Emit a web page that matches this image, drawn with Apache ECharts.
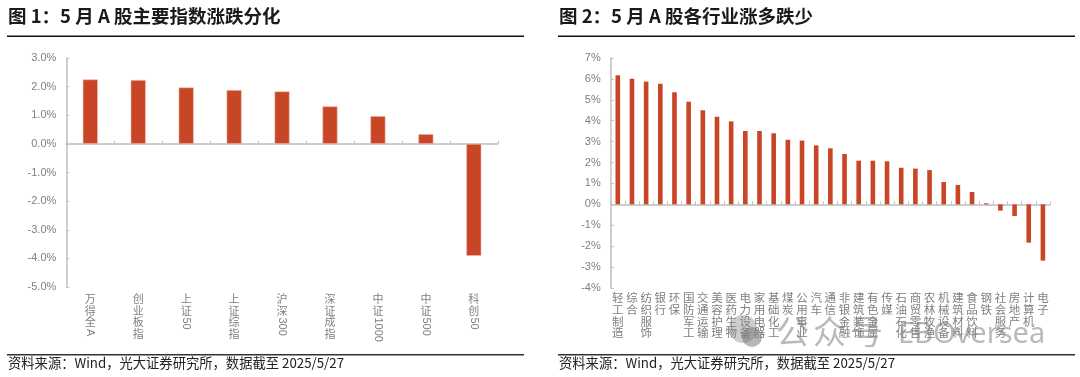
<!DOCTYPE html>
<html>
<head>
<meta charset="utf-8">
<title>5月A股涨跌</title>
<script src="https://cdn.jsdelivr.net/npm/echarts@6/dist/echarts.min.js"></script>
<style>
  html, body { margin: 0; padding: 0; background: #fff; }
  #chart { width: 1080px; height: 377px; }
</style>
</head>
<body>
<div id="chart"></div>
<script>
// chart 1: index returns
const indexNames = ["万得全A", "创业板指", "上证50", "上证综指", "沪深300", "深证成指", "中证1000", "中证500", "科创50"];
const indexValues = [2.25, 2.23, 1.97, 1.88, 1.83, 1.31, 0.97, 0.34, -3.91];

// chart 2: industry returns
const industryNames = ["轻工制造", "综合", "纺织服饰", "银行", "环保", "国防军工", "交通运输", "美容护理", "医药生物", "电力设备", "家用电器", "基础化工", "煤炭", "公用事业", "汽车", "通信", "非银金融", "建筑装饰", "有色金属", "传媒", "石油石化", "商贸零售", "农林牧渔", "机械设备", "建筑材料", "食品饮料", "钢铁", "社会服务", "房地产", "计算机", "电子"];
const industryValues = [6.17, 6.01, 5.87, 5.77, 5.36, 4.91, 4.50, 4.19, 3.97, 3.51, 3.51, 3.40, 3.09, 3.05, 2.82, 2.68, 2.41, 2.09, 2.09, 2.06, 1.75, 1.71, 1.64, 1.07, 0.93, 0.59, 0.05, -0.30, -0.56, -1.83, -2.69];

const titles = ["图 1：5 月 A 股主要指数涨跌分化", "图 2：5 月 A 股各行业涨多跌少"];
const sourceNote = "资料来源：Wind，光大证券研究所，数据截至 2025/5/27";

const cjkFont = '"Noto Sans CJK SC", sans-serif';
const axisFont = '"Liberation Sans", Arial, sans-serif';
const gray = "#7f7f7f";
const axisGray = "#bfbfbf";
const barRed = "#c84525";
const markGray = "rgba(130,130,130,0.55)";

// CJK part stacks upright, latin/digit tail is drawn rotated like the original
const cjkPart = (s) => s.replace(/[A-Za-z0-9]+$/, "");
const latinPart = (s) => (s.match(/[A-Za-z0-9]+$/) || [""])[0];

function xAxisOf(gridIndex, names, margin, fontSize) {
  return {
    type: "category",
    gridIndex: gridIndex,
    data: names,
    axisLine: { onZero: true, lineStyle: { color: axisGray, width: 1.5 } },
    axisTick: { show: true, inside: true, length: 3, alignWithLabel: false, lineStyle: { color: axisGray } },
    axisLabel: {
      interval: 0,
      margin: margin,
      color: gray,
      fontFamily: cjkFont,
      fontSize: fontSize,
      lineHeight: 11.7,
      verticalAlign: "top",
      hideOverlap: false,
      formatter: (v) => cjkPart(v).split("").join("\n"),
    },
  };
}

function yAxisOf(gridIndex, min, max, fmt, margin) {
  return {
    type: "value",
    gridIndex: gridIndex,
    min: min,
    max: max,
    interval: 1,
    splitLine: { show: false },
    axisLine: { show: true, lineStyle: { color: axisGray, width: 1.5 } },
    axisTick: { show: true, inside: true, length: 3, lineStyle: { color: axisGray } },
    axisLabel: { color: gray, fontFamily: axisFont, fontSize: 11, margin: margin, formatter: fmt },
  };
}

function headerAndFooter(x0, x1, title) {
  return [
    { type: "text", left: x0 + 1, top: 7, style: { text: title, font: '600 18.5px ' + cjkFont, fill: "#1a1a1a" } },
    { type: "rect", shape: { x: x0, y: 35.5, width: x1 - x0, height: 1.6 }, style: { fill: "#111" } },
    { type: "rect", shape: { x: x0, y: 354, width: x1 - x0, height: 1.6 }, style: { fill: "#333" } },
    { type: "text", left: x0 + 1, top: 356, style: { text: sourceNote, font: '13.3px ' + cjkFont, fill: "#222" } },
  ];
}

const chart = echarts.init(document.getElementById("chart"), null, { renderer: "canvas" });

const option = {
  animation: false,
  backgroundColor: "#fff",
  grid: [
    { left: 66.3, top: 58, width: 431.5, height: 229, outerBoundsMode: "none" },
    { left: 610.7, top: 58, width: 439.3, height: 230, outerBoundsMode: "none" },
  ],
  xAxis: [xAxisOf(0, indexNames, 6, 11), xAxisOf(1, industryNames, 4, 11.5)],
  yAxis: [
    yAxisOf(0, -5, 3, (v) => v.toFixed(1) + "%", 10),
    yAxisOf(1, -4, 7, (v) => v + "%", 10),
  ],
  series: [
    {
      type: "bar",
      xAxisIndex: 0,
      yAxisIndex: 0,
      data: indexValues,
      barWidth: 15,
      itemStyle: { color: barRed, borderColor: "#eeb9a8", borderWidth: 0.6 },
    },
    {
      type: "bar",
      xAxisIndex: 1,
      yAxisIndex: 1,
      data: industryValues,
      barWidth: 4.6,
      itemStyle: { color: barRed },
    },
  ],
};
chart.setOption(option);

// rotated latin tails under the stacked labels, plus headers, rules and watermark
const tails = indexNames
  .map((name, i) => ({ name, i }))
  .filter((d) => latinPart(d.name))
  .map((d) => ({
    type: "text",
    x: chart.convertToPixel({ xAxisIndex: 0 }, d.i),
    y: 294 + cjkPart(d.name).length * 11.7,
    rotation: -Math.PI / 2,
    style: {
      text: latinPart(d.name),
      font: "11px " + axisFont,
      fill: gray,
      textAlign: "left",
      textVerticalAlign: "middle",
    },
  }));

chart.setOption({
  graphic: [
    ...headerAndFooter(7, 524, titles[0]),
    ...headerAndFooter(558, 1075, titles[1]),
    ...tails,
    { type: "circle", shape: { cx: 743, cy: 329, r: 14 }, style: { fill: "rgba(130,130,130,0.4)" } },
    { type: "circle", shape: { cx: 752, cy: 337, r: 10 }, style: { fill: "rgba(110,110,110,0.5)" } },
    ...["公", "众", "号"].map((c, i) => ({
      type: "text",
      x: 776 + i * 37,
      y: 331,
      style: { text: c, font: "33px " + cjkFont, fill: markGray, textVerticalAlign: "middle" },
    })),
    { type: "text", x: 898, y: 335, style: { text: "EBOversea", font: '29px "Noto Sans", sans-serif', fill: markGray, textVerticalAlign: "middle" } },
  ],
});
</script>
</body>
</html>
